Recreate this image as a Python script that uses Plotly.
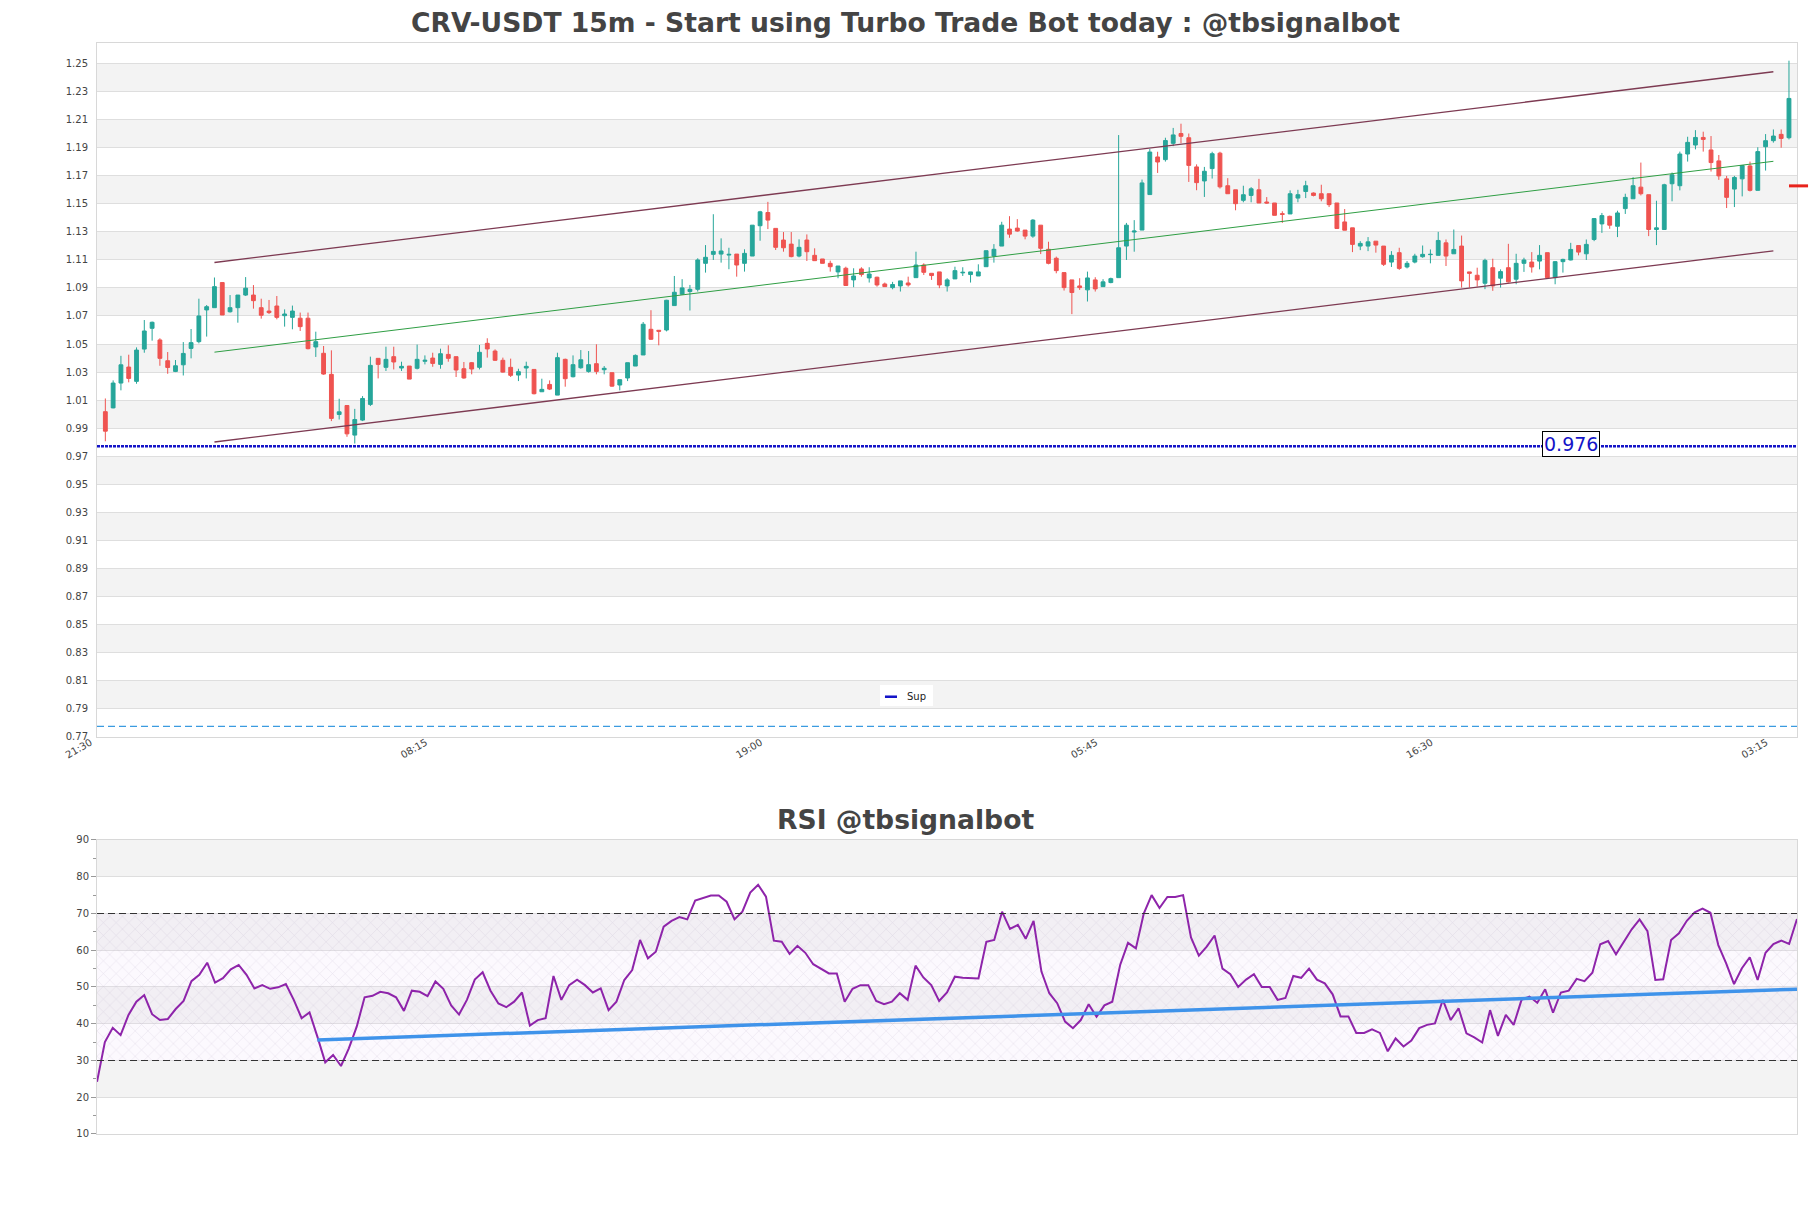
import pandas as pd
import plotly.graph_objects as go

START = "2024-01-01 21:45"

OPEN = [1.0018, 1.0045, 1.0222, 1.0336, 1.0234, 1.0464, 1.0612, 1.0529, 1.0381, 1.0305,
        1.0352, 1.0469, 1.0517, 1.0743, 1.0759, 1.0938, 1.0730, 1.0759, 1.0849, 1.0849,
        1.0759, 1.0735, 1.0771, 1.0702, 1.0690, 1.0684, 1.0684, 1.0479, 1.0434, 1.0284,
        0.9998, 1.0062, 0.9851, 0.9958, 1.0070, 1.0398, 1.0334, 1.0410, 1.0329, 1.0343,
        1.0327, 1.0377, 1.0400, 1.0355, 1.0426, 1.0410, 1.0324, 1.0367, 1.0334, 1.0505,
        1.0450, 1.0384, 1.0334, 1.0279, 1.0329, 1.0319, 1.0160, 1.0212, 1.0136, 1.0391,
        1.0267, 1.0331, 1.0305, 1.0360, 1.0317, 1.0296, 1.0208, 1.0258, 1.0343, 1.0422,
        1.0605, 1.0598, 1.0600, 1.0774, 1.0855, 1.0874, 1.0890, 1.1075, 1.1139, 1.1141,
        1.1134, 1.1141, 1.1075, 1.1127, 1.1343, 1.1437, 1.1324, 1.1241, 1.1212, 1.1127,
        1.1241, 1.1132, 1.1106, 1.1075, 1.1014, 1.1040, 1.0957, 1.1035, 1.0971, 1.0976,
        1.0928, 1.0902, 1.0914, 1.0935, 1.0973, 1.1063, 1.1004, 1.1014, 1.0914, 1.0964,
        1.1007, 1.0995, 1.0985, 1.1051, 1.1127, 1.1198, 1.1319, 1.1326, 1.1312, 1.1269,
        1.1347, 1.1175, 1.1111, 1.1009, 1.0957, 1.0914, 1.0886, 1.0957, 1.0909, 1.0938,
        1.0973, 1.1198, 1.1298, 1.1312, 1.1565, 1.1833, 1.1814, 1.1930, 1.2000, 1.1970,
        1.1762, 1.1662, 1.1750, 1.1860, 1.1628, 1.1599, 1.1524, 1.1559, 1.1599, 1.1512,
        1.1505, 1.1429, 1.1427, 1.1540, 1.1587, 1.1576, 1.1571, 1.1571, 1.1505, 1.1370,
        1.1328, 1.1198, 1.1198, 1.1233, 1.1198, 1.1084, 1.1151, 1.1049, 1.1084, 1.1122,
        1.1137, 1.1132, 1.1221, 1.1143, 1.1198, 1.1014, 1.0990, 1.0933, 1.1044, 1.0969,
        1.1044, 1.0962, 1.1075, 1.1084, 1.1091, 1.1151, 1.0973, 1.1087, 1.1099, 1.1202,
        1.1143, 1.1245, 1.1356, 1.1410, 1.1339, 1.1465, 1.1535, 1.1618, 1.1564, 1.1316,
        1.1316, 1.1642, 1.1628, 1.1854, 1.1918, 1.1972, 1.1883, 1.1805, 1.1677, 1.1604,
        1.1677, 1.1769, 1.1595, 1.1906, 1.1949, 1.1994, 1.1970]

HIGH = [1.0112, 1.0241, 1.0416, 1.0424, 1.0476, 1.0671, 1.0660, 1.0541, 1.0443, 1.0386,
        1.0514, 1.0607, 1.0823, 1.0778, 1.0974, 1.0938, 1.0849, 1.0849, 1.0977, 1.0920,
        1.0823, 1.0814, 1.0842, 1.0747, 1.0774, 1.0724, 1.0724, 1.0588, 1.0486, 1.0455,
        1.0110, 1.0062, 1.0038, 1.0129, 1.0410, 1.0398, 1.0481, 1.0481, 1.0374, 1.0343,
        1.0496, 1.0419, 1.0438, 1.0467, 1.0491, 1.0410, 1.0372, 1.0372, 1.0493, 1.0541,
        1.0462, 1.0403, 1.0396, 1.0324, 1.0374, 1.0319, 1.0253, 1.0241, 1.0438, 1.0396,
        1.0419, 1.0457, 1.0450, 1.0498, 1.0343, 1.0296, 1.0246, 1.0367, 1.0426, 1.0657,
        1.0741, 1.0598, 1.0815, 1.0985, 1.0962, 1.0921, 1.1111, 1.1205, 1.1425, 1.1253,
        1.1186, 1.1141, 1.1175, 1.1347, 1.1449, 1.1513, 1.1324, 1.1298, 1.1298, 1.1246,
        1.1281, 1.1182, 1.1106, 1.1094, 1.1056, 1.1051, 1.1040, 1.1047, 1.1047, 1.0980,
        1.0938, 1.0943, 1.0950, 1.0980, 1.1158, 1.1075, 1.1004, 1.1014, 1.0969, 1.1051,
        1.1047, 1.1014, 1.1068, 1.1165, 1.1212, 1.1371, 1.1411, 1.1390, 1.1312, 1.1390,
        1.1347, 1.1229, 1.1123, 1.1009, 1.0957, 1.0969, 1.1016, 1.0976, 1.0962, 1.0973,
        1.1989, 1.1363, 1.1383, 1.1672, 1.1890, 1.1870, 1.1970, 1.2040, 1.2070, 1.2000,
        1.1780, 1.1762, 1.1870, 1.1870, 1.1682, 1.1599, 1.1628, 1.1618, 1.1677, 1.1547,
        1.1505, 1.1446, 1.1595, 1.1599, 1.1663, 1.1580, 1.1635, 1.1571, 1.1505, 1.1462,
        1.1328, 1.1233, 1.1262, 1.1233, 1.1198, 1.1162, 1.1186, 1.1091, 1.1143, 1.1202,
        1.1174, 1.1299, 1.1245, 1.1316, 1.1273, 1.1014, 1.1044, 1.1108, 1.1108, 1.1032,
        1.1214, 1.1143, 1.1115, 1.1155, 1.1205, 1.1151, 1.1091, 1.1108, 1.1221, 1.1202,
        1.1245, 1.1398, 1.1434, 1.1415, 1.1450, 1.1571, 1.1689, 1.1793, 1.1564, 1.1521,
        1.1642, 1.1722, 1.1871, 1.1977, 1.2024, 1.2013, 1.1982, 1.1847, 1.1698, 1.1698,
        1.1776, 1.1800, 1.1902, 1.1996, 1.2029, 1.2029, 1.2519]

LOW = [0.9807, 1.0042, 1.0170, 1.0227, 1.0217, 1.0438, 1.0524, 1.0345, 1.0288, 1.0300,
       1.0276, 1.0398, 1.0505, 1.0553, 1.0759, 1.0707, 1.0724, 1.0652, 1.0842, 1.0752,
       1.0681, 1.0714, 1.0676, 1.0624, 1.0605, 1.0593, 1.0462, 1.0408, 1.0281, 0.9951,
       0.9962, 0.9839, 0.9791, 0.9951, 1.0058, 1.0255, 1.0308, 1.0319, 1.0308, 1.0250,
       1.0319, 1.0355, 1.0338, 1.0324, 1.0374, 1.0265, 1.0253, 1.0284, 1.0319, 1.0403,
       1.0379, 1.0296, 1.0265, 1.0236, 1.0255, 1.0141, 1.0158, 1.0172, 1.0136, 1.0196,
       1.0262, 1.0324, 1.0296, 1.0284, 1.0284, 1.0196, 1.0170, 1.0236, 1.0343, 1.0422,
       1.0529, 1.0491, 1.0590, 1.0774, 1.0850, 1.0739, 1.0874, 1.1009, 1.1099, 1.1080,
       1.1033, 1.0980, 1.1016, 1.1127, 1.1236, 1.1319, 1.1170, 1.1158, 1.1118, 1.1118,
       1.1092, 1.1094, 1.1075, 1.1016, 1.0969, 1.0917, 1.0905, 1.0980, 1.0938, 1.0909,
       1.0909, 1.0890, 1.0874, 1.0909, 1.0973, 1.0992, 1.0957, 1.0898, 1.0874, 1.0964,
       1.0985, 1.0938, 1.0985, 1.1051, 1.1080, 1.1198, 1.1257, 1.1300, 1.1246, 1.1257,
       1.1141, 1.1068, 1.1004, 1.0881, 1.0713, 1.0886, 1.0803, 1.0874, 1.0909, 1.0933,
       1.0973, 1.1099, 1.1158, 1.1312, 1.1565, 1.1719, 1.1800, 1.1910, 1.1930, 1.1655,
       1.1596, 1.1548, 1.1679, 1.1608, 1.1571, 1.1453, 1.1510, 1.1510, 1.1505, 1.1500,
       1.1417, 1.1363, 1.1427, 1.1510, 1.1540, 1.1552, 1.1517, 1.1476, 1.1321, 1.1311,
       1.1155, 1.1169, 1.1162, 1.1151, 1.1056, 1.1049, 1.1028, 1.1039, 1.1075, 1.1115,
       1.1075, 1.1132, 1.1056, 1.1143, 1.0902, 1.0902, 1.0910, 1.0891, 1.0879, 1.0902,
       1.0938, 1.0926, 1.1014, 1.1009, 1.1032, 1.0973, 1.0926, 1.1009, 1.1096, 1.1132,
       1.1099, 1.1233, 1.1292, 1.1321, 1.1262, 1.1427, 1.1535, 1.1559, 1.1269, 1.1205,
       1.1316, 1.1517, 1.1595, 1.1800, 1.1887, 1.1871, 1.1729, 1.1670, 1.1469, 1.1476,
       1.1552, 1.1587, 1.1595, 1.1736, 1.1935, 1.1899, 1.1958]

CLOSE = [0.9879, 1.0222, 1.0352, 1.0255, 1.0457, 1.0593, 1.0655, 1.0398, 1.0333, 1.0345,
         1.0433, 1.0510, 1.0700, 1.0766, 1.0909, 1.0707, 1.0759, 1.0849, 1.0898, 1.0809,
         1.0705, 1.0724, 1.0690, 1.0714, 1.0735, 1.0624, 1.0467, 1.0517, 1.0286, 0.9970,
         1.0017, 0.9860, 0.9962, 1.0112, 1.0348, 1.0355, 1.0391, 1.0372, 1.0341, 1.0250,
         1.0391, 1.0384, 1.0362, 1.0431, 1.0398, 1.0315, 1.0258, 1.0322, 1.0441, 1.0465,
         1.0384, 1.0300, 1.0277, 1.0303, 1.0341, 1.0146, 1.0177, 1.0179, 1.0403, 1.0253,
         1.0353, 1.0388, 1.0353, 1.0305, 1.0327, 1.0200, 1.0246, 1.0367, 1.0419, 1.0641,
         1.0534, 1.0591, 1.0812, 1.0869, 1.0900, 1.0890, 1.1099, 1.1118, 1.1160, 1.1163,
         1.1139, 1.1063, 1.1146, 1.1347, 1.1442, 1.1383, 1.1189, 1.1186, 1.1123, 1.1189,
         1.1158, 1.1094, 1.1075, 1.1051, 1.1056, 1.0917, 1.0985, 1.0995, 1.0999, 1.0921,
         1.0909, 1.0924, 1.0950, 1.0921, 1.1063, 1.1011, 1.0988, 1.0921, 1.0957, 1.1023,
         1.1011, 1.1014, 1.1014, 1.1165, 1.1175, 1.1347, 1.1283, 1.1305, 1.1269, 1.1383,
         1.1182, 1.1075, 1.1023, 1.0902, 1.0867, 1.0902, 1.0971, 1.0893, 1.0943, 1.0966,
         1.1186, 1.1347, 1.1305, 1.1648, 1.1868, 1.1797, 1.1950, 1.1990, 1.1980, 1.1773,
         1.1650, 1.1731, 1.1856, 1.1620, 1.1571, 1.1500, 1.1564, 1.1606, 1.1505, 1.1505,
         1.1417, 1.1424, 1.1571, 1.1564, 1.1628, 1.1559, 1.1535, 1.1493, 1.1323, 1.1311,
         1.1210, 1.1217, 1.1228, 1.1205, 1.1068, 1.1132, 1.1039, 1.1075, 1.1127, 1.1139,
         1.1139, 1.1238, 1.1127, 1.1174, 1.0950, 1.1004, 1.0957, 1.1096, 1.0914, 1.1016,
         1.0943, 1.1075, 1.1099, 1.1049, 1.1132, 1.0973, 1.1087, 1.1103, 1.1174, 1.1155,
         1.1210, 1.1394, 1.1415, 1.1347, 1.1434, 1.1545, 1.1628, 1.1571, 1.1316, 1.1328,
         1.1635, 1.1706, 1.1854, 1.1937, 1.1972, 1.1958, 1.1793, 1.1698, 1.1545, 1.1687,
         1.1772, 1.1595, 1.1871, 1.1949, 1.1982, 1.1965, 1.2250]

RSI = [24.2, 35.0, 38.9, 36.9, 42.4, 46.0, 47.8, 42.6, 41.0, 41.3,
       44.0, 46.2, 51.6, 53.3, 56.6, 51.2, 52.4, 54.8, 56.0, 53.3,
       49.6, 50.5, 49.5, 49.9, 50.8, 46.5, 41.5, 43.1, 36.5, 29.5,
       31.5, 28.5, 33.3, 39.2, 47.2, 47.6, 48.7, 48.3, 47.2, 43.5,
       49.0, 48.7, 47.5, 51.5, 49.5, 45.0, 42.5, 46.5, 52.0, 54.0,
       49.0, 45.5, 44.5, 46.0, 48.5, 39.5, 41.0, 41.5, 53.0, 46.5,
       50.5, 52.0, 50.5, 48.5, 49.6, 43.7, 46.0, 51.9, 54.6, 62.8,
       57.8, 59.6, 66.4, 68.0, 69.0, 68.4, 73.5, 74.1, 74.9, 74.9,
       73.2, 68.4, 70.5, 75.7, 77.8, 74.6, 62.6, 62.3, 59.0, 61.2,
       59.3, 56.2, 54.9, 53.7, 53.7, 46.0, 49.5, 50.5, 50.5, 46.2,
       45.3, 46.0, 48.3, 46.5, 55.8, 52.6, 50.5, 46.2, 48.5, 52.8,
       52.5, 52.3, 52.3, 62.3, 62.8, 70.5, 65.8, 66.9, 63.1, 68.0,
       54.2, 48.3, 45.6, 40.6, 38.8, 41.0, 45.3, 41.9, 45.0, 46.0,
       56.0, 62.0, 60.5, 70.0, 75.0, 71.5, 74.5, 74.5, 75.0, 63.5,
       58.5, 61.0, 64.0, 55.0, 53.5, 50.0, 52.0, 53.5, 50.0, 50.0,
       46.5, 47.0, 53.0, 52.5, 55.0, 52.0, 51.0, 48.0, 42.0, 42.0,
       37.5, 37.5, 38.5, 37.5, 32.5, 36.0, 33.8, 35.4, 38.8, 39.7,
       40.1, 46.5, 41.0, 44.2, 37.4, 36.3, 34.9, 43.7, 36.7, 42.4,
       39.7, 46.5, 47.4, 45.7, 49.4, 43.0, 48.5, 49.0, 52.2, 51.6,
       53.9, 61.6, 62.5, 58.9, 62.3, 65.7, 68.4, 65.2, 51.9, 52.1,
       62.8, 64.6, 68.0, 70.3, 71.3, 70.2, 61.4, 56.4, 50.8, 55.1,
       58.1, 51.9, 59.3, 61.7, 62.6, 61.7, 68.5]

TICK_TIMES = ["2024-01-01 21:30", "2024-01-02 08:15", "2024-01-02 19:00",
              "2024-01-03 05:45", "2024-01-03 16:30", "2024-01-04 03:15"]

CHANNEL_IDX = [14, 214]
CH_UPPER = [1.1081, 1.2440]
CH_MID = [1.0442, 1.1802]
CH_LOWER = [0.9802, 1.1164]

SUP = 0.9772
SUP_TEXT = "0.976"
SUP_LABEL_IDX = 188
TARGET = 0.7775
LAST_MARK = 1.1627

RSI_TREND_IDX = [28, 216]
RSI_TREND = [35.6, 49.4]

times = pd.date_range(START, periods=len(OPEN), freq="15min")
step = pd.Timedelta(minutes=15)

FONT = "DejaVu Sans"
GREEN = "#26a69a"
RED = "#ef5350"
BAND = "#f3f3f3"
GRID = "#dedede"
FRAME = "#d8d8d8"

fig = go.Figure()

shapes = []
lv = 0.79
while lv < 1.25:
    shapes.append(dict(type="rect", xref="x domain", yref="y", x0=0, x1=1, y0=lv, y1=lv + 0.02,
                       fillcolor=BAND, line=dict(width=0), layer="below"))
    lv += 0.04
for lo in (20, 40, 60, 80):
    shapes.append(dict(type="rect", xref="x2 domain", yref="y2", x0=0, x1=1, y0=lo, y1=lo + 10,
                       fillcolor=BAND, line=dict(width=0), layer="below"))

fig.add_trace(go.Candlestick(
    x=times, open=OPEN, high=HIGH, low=LOW, close=CLOSE,
    increasing=dict(line=dict(color=GREEN, width=1), fillcolor=GREEN),
    decreasing=dict(line=dict(color=RED, width=1), fillcolor=RED),
    whiskerwidth=0, showlegend=False, xaxis="x", yaxis="y"))

ch_t = [times[i] for i in CHANNEL_IDX]
fig.add_trace(go.Scatter(x=ch_t, y=CH_UPPER, mode="lines", line=dict(color="#7d3a52", width=1.3),
                         showlegend=False, xaxis="x", yaxis="y"))
fig.add_trace(go.Scatter(x=ch_t, y=CH_LOWER, mode="lines", line=dict(color="#7d3a52", width=1.3),
                         showlegend=False, xaxis="x", yaxis="y"))
fig.add_trace(go.Scatter(x=ch_t, y=CH_MID, mode="lines", line=dict(color="#2f9e44", width=1),
                         showlegend=False, xaxis="x", yaxis="y"))

shapes.append(dict(type="line", xref="x domain", yref="y", x0=0, x1=1, y0=SUP, y1=SUP,
                   line=dict(color="#1414c8", width=2.5, dash="3px,1px")))
shapes.append(dict(type="line", xref="x domain", yref="y", x0=0, x1=1, y0=TARGET, y1=TARGET,
                   line=dict(color="#3b9be0", width=1.3, dash="7px,4px")))

shapes.append(dict(type="line", xref="paper", yref="y", x0=0.9953, x1=1.0065, y0=LAST_MARK, y1=LAST_MARK,
                   line=dict(color="#e8231c", width=3)))

rx = [times[0], times[-1], times[-1], times[0], times[0]]
fig.add_trace(go.Scatter(x=rx, y=[30, 30, 70, 70, 30], mode="lines", fill="toself",
                         line=dict(width=0), fillcolor="rgba(220,190,235,0.12)",
                         fillpattern=dict(shape="x", fgcolor="rgba(170,160,190,0.55)",
                                          bgcolor="rgba(235,215,245,0.15)", size=9, solidity=0.12),
                         showlegend=False, hoverinfo="skip", xaxis="x2", yaxis="y2"))
for lvl in (30, 70):
    shapes.append(dict(type="line", xref="x2 domain", yref="y2", x0=0, x1=1, y0=lvl, y1=lvl,
                       line=dict(color="#333333", width=1.2, dash="7px,4px")))

fig.add_trace(go.Scatter(x=times, y=RSI, mode="lines", line=dict(color="#8e24aa", width=2),
                         showlegend=False, xaxis="x2", yaxis="y2"))
fig.add_trace(go.Scatter(x=[times[i] for i in RSI_TREND_IDX], y=RSI_TREND, mode="lines",
                         line=dict(color="#3f93ea", width=3.5), showlegend=False,
                         xaxis="x2", yaxis="y2"))

shapes.append(dict(type="rect", xref="paper", yref="paper", x0=0.4606, x1=0.4918, y0=0.3923, y1=0.4115,
                   fillcolor="white", line=dict(width=0)))
shapes.append(dict(type="line", xref="paper", yref="paper", x0=0.4635, x1=0.4706, y0=0.4008, y1=0.4008,
                   line=dict(color="#1414c8", width=2.5)))

annotations = [
    dict(text="Sup", xref="paper", yref="paper", x=0.4753, y=0.4008, xanchor="left", yanchor="middle",
         showarrow=False, font=dict(family=FONT, size=10, color="#222")),
    dict(text=SUP_TEXT, xref="x", yref="y", x=times[SUP_LABEL_IDX], y=SUP, yshift=2, showarrow=False,
         font=dict(family=FONT, size=19, color="#1414c8"), bgcolor="white", bordercolor="black",
         borderwidth=1, borderpad=1),
    dict(text="<b>RSI @tbsignalbot</b>", xref="paper", yref="paper", x=0.4756, y=0.2883,
         xanchor="center", yanchor="middle", showarrow=False,
         font=dict(family=FONT, size=26.6, color="#444444")),
]

fig.update_layout(
    width=1811, height=1208,
    margin=dict(l=97, r=14, t=43, b=74),
    paper_bgcolor="white", plot_bgcolor="white",
    font=dict(family=FONT, size=10, color="#444444"),
    title=dict(text="<b>CRV-USDT 15m - Start using Turbo Trade Bot today : @tbsignalbot</b>",
               x=0.5, xanchor="center", y=1 - 23 / 1208, yanchor="middle",
               font=dict(family=FONT, size=26.6, color="#444444")),
    shapes=shapes, annotations=annotations,
    xaxis=dict(domain=[0, 1], anchor="y", range=[times[0] - step * 1.07, times[-1] + step * 1.03],
               tickvals=pd.to_datetime(TICK_TIMES), tickformat="%H:%M", tickangle=-30,
               tickfont=dict(size=10, color="#444"), showgrid=False, showline=True,
               linecolor=FRAME, mirror=True, rangeslider=dict(visible=False), ticks="",
               ticklabelshift=-7, ticklabelstandoff=-5),
    yaxis=dict(domain=[0.3639, 1], anchor="x", range=[0.77, 1.2645], tick0=0.77, dtick=0.02,
               tickformat=".2f", showgrid=True, gridcolor=GRID, gridwidth=1, zeroline=False,
               showline=True, linecolor=FRAME, mirror=True, ticks="outside", ticklen=6,
               tickcolor="rgba(0,0,0,0)", tickfont=dict(size=10, color="#444")),
    xaxis2=dict(domain=[0, 1], anchor="y2", range=[times[0], times[-1]], showticklabels=False,
                showgrid=False, showline=True, linecolor=FRAME, mirror=True, ticks=""),
    yaxis2=dict(domain=[0, 0.2695], anchor="x2", range=[10, 90], dtick=10, tick0=10,
                showgrid=True, gridcolor=GRID, zeroline=False, showline=True, linecolor=FRAME,
                mirror=True, ticks="outside", ticklen=5, tickcolor="#999",
                minor=dict(dtick=5, ticks="outside", ticklen=3, tickcolor="#999", showgrid=False),
                tickfont=dict(size=10, color="#444")),
)

fig.write_html("out.html")
